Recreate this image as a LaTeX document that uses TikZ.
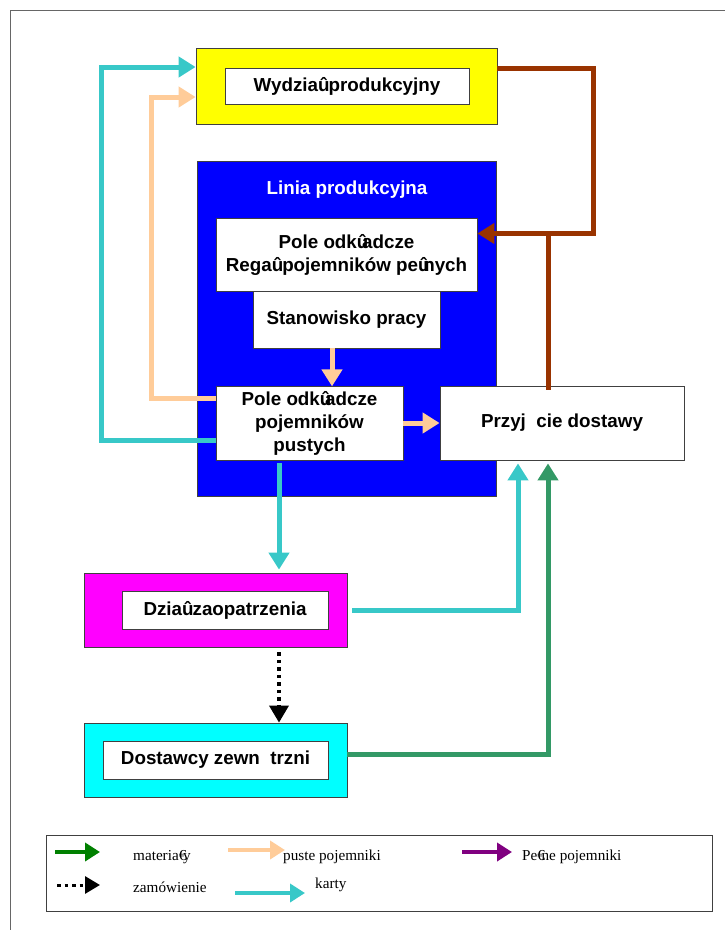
\documentclass[tikz,border=0pt]{standalone}
\usepackage{fontspec}
\setmainfont{Liberation Serif}
\newfontfamily\boxfont{Liberation Sans}
\usetikzlibrary{arrows.meta}
\definecolor{kartcol}{RGB}{56,200,200}
\definecolor{pustcol}{RGB}{255,204,153}
\definecolor{brazcol}{RGB}{153,51,0}
\definecolor{matcol}{RGB}{51,153,102}
\definecolor{legmat}{RGB}{0,128,0}
\definecolor{pelncol}{RGB}{128,0,128}
\definecolor{zolty}{RGB}{255,255,0}
\definecolor{niebieski}{RGB}{0,0,255}
\definecolor{rozowy}{RGB}{255,0,255}
\definecolor{turkus}{RGB}{0,255,255}
\newcommand{\garbl}{\makebox[.278em][l]{û}}
\newcommand{\garbe}{\makebox[.278em][l]{€}}

\begin{document}
\begin{tikzpicture}[x=1pt,y=-1pt,
  panel/.style={draw=black!75, line width=0.8pt, inner sep=0pt},
  tbox/.style={draw=black!75, line width=0.8pt, fill=white, inner sep=0pt, align=center,
    font=\boxfont\bfseries\fontsize{18.8}{23}\selectfont},
  flow/.style={line width=5pt, -{Triangle[width=20pt,length=17pt]}},
  legflow/.style={line width=4.5pt, -{Triangle[width=18pt,length=15pt]}},
  order/.style={line width=3.5pt, dash pattern=on 3.5pt off 4pt, -{Triangle[width=19pt,length=17pt]}},
  legtext/.style={anchor=west, inner sep=0pt, font=\fontsize{15.2}{18}\selectfont}]
\useasboundingbox (0,0) rectangle (725,930);
\draw[black!60] (10,930) -- (10,10) -- (725,10);

\node[panel, fill=zolty, minimum width=301pt, minimum height=76pt] (wydzial) at (346.5,86) {};
\node[tbox, minimum width=244pt, minimum height=36pt] (wydzialtxt) at (347,86) {Wydzia\garbl\ produkcyjny};

\node[panel, fill=niebieski, minimum width=299pt, minimum height=335pt] (linia) at (346.5,328.5) {};
\node[text=white, font=\boxfont\bfseries\fontsize{18.8}{23}\selectfont] (liniatxt) at (347,190) {Linia produkcyjna};
\node[tbox, minimum width=261pt, minimum height=73pt] (regal) at (346.5,254.5) {Pole odk\garbl adcze\\Rega\garbl\ pojemników pe\garbl nych};
\node[tbox, minimum width=187pt, minimum height=57pt] (stanowisko) at (346.5,319.5) {Stanowisko pracy};
\node[tbox, minimum width=187pt, minimum height=74pt] (pustych) at (309.5,423) {Pole odk\garbl adcze\\pojemników\\pustych};
\node[tbox, minimum width=244pt, minimum height=74pt] (przyjecie) at (562,423) {Przyj\hspace{.556em}cie dostawy};

\node[panel, fill=rozowy, minimum width=263pt, minimum height=74pt] (zaop) at (215.5,610) {};
\node[tbox, minimum width=206pt, minimum height=38pt] (zaoptxt) at (225,610) {Dzia\garbl\ zaopatrzenia};

\node[panel, fill=turkus, minimum width=263pt, minimum height=74pt] (dostawcy) at (215.5,760) {};
\node[tbox, minimum width=225pt, minimum height=38pt] (dostawcytxt) at (215.5,760) {Dostawcy zewn\hspace{.556em}trzni};

\draw[flow, kartcol] ([yshift=-17pt]pustych.west) -- ++(-114,0) |- ([yshift=19pt]wydzial.west);
\draw[flow, pustcol] ([yshift=25pt]pustych.west) -- ++(-64,0) |- ([yshift=-11pt]wydzial.west);
\draw[flow, brazcol] ([yshift=18pt]wydzial.east) -- ++(96,0) |- ([yshift=21pt]regal.east);
\draw[line width=5pt, brazcol] ([xshift=-14pt,yshift=-4pt]przyjecie.north) -- ++(0,-157);
\draw[flow, pustcol] ([xshift=-14.5pt]stanowisko.south) -- ++(0,38);
\draw[flow, pustcol] (pustych.east) -- (przyjecie.west);
\draw[flow, kartcol] ([xshift=-30.5pt,yshift=-3pt]pustych.south) -- ([xshift=63.5pt,yshift=3pt]zaop.north);
\draw[order] ([xshift=63.5pt,yshift=-5pt]zaop.south) -- ([xshift=63.5pt]dostawcy.north);
\draw[flow, kartcol] ([xshift=5pt]zaop.east) -| ([xshift=-44pt,yshift=-3pt]przyjecie.south);
\draw[flow, matcol] ([yshift=6pt]dostawcy.east) -| ([xshift=-14pt,yshift=-3pt]przyjecie.south);

\node[draw=black!75, line width=0.8pt, minimum width=666pt, minimum height=76pt] (legenda) at (379,873) {};
\node[legtext] (lmat) at (133,857) {materia\garbe y};
\node[legtext] (lpuste) at (283,857) {puste pojemniki};
\node[legtext] (lpelne) at (522,857) {Pe\garbe ne pojemniki};
\node[legtext] (lzam) at (133,887) {zamówienie};
\node[legtext] (lkarty) at (315,885) {karty};
\coordinate (cmat) at (55,852);
\coordinate (cpuste) at (228,850);
\coordinate (cpelne) at (462,852);
\coordinate (czam) at (57,885);
\coordinate (ckarty) at (235,893);
\draw[legflow, legmat] (cmat) -- ++(45,0);
\draw[legflow, pustcol] (cpuste) -- ++(57,0);
\draw[legflow, pelncol] (cpelne) -- ++(50,0);
\draw[order, line width=3pt, -{Triangle[width=17pt,length=15pt]}] (czam) -- ++(43,0);
\draw[legflow, kartcol] (ckarty) -- ++(70,0);
\end{tikzpicture}
\end{document}
